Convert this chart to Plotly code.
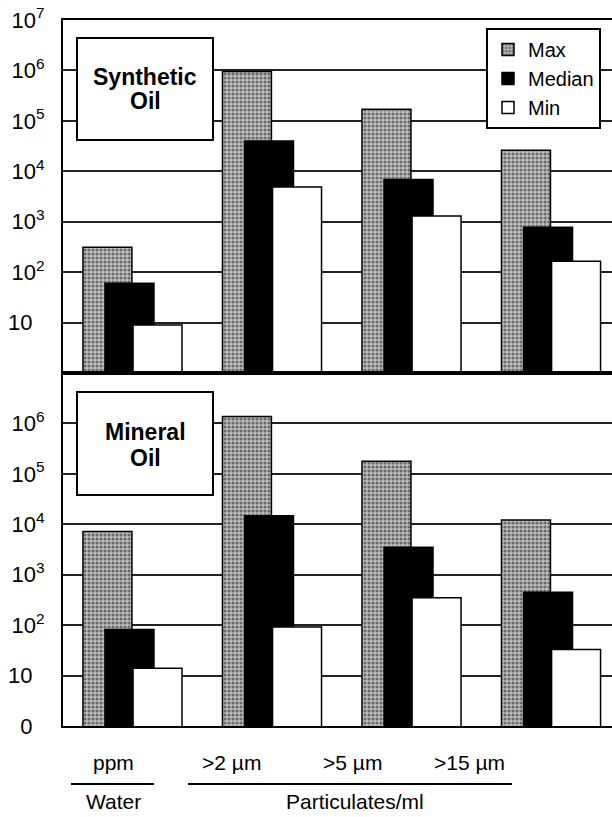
import plotly.graph_objects as go
from plotly.subplots import make_subplots

# ---- data ----
categories = ["ppm", ">2 µm", ">5 µm", ">15 µm"]
group_labels = ["Water", "Particulates/ml"]
synthetic_max = [310, 950000, 170000, 26000]
synthetic_median = [60, 40000, 6900, 780]
synthetic_min = [9, 4900, 1300, 165]
mineral_max = [7200, 1370000, 177000, 12200]
mineral_median = [82, 14800, 3500, 450]
mineral_min = [14, 92, 350, 33]
top_tickvals = [10, 1e2, 1e3, 1e4, 1e5, 1e6, 1e7]
top_ticktext = ["10\u00a0\u00a0", "10<sup>2</sup>", "10<sup>3</sup>", "10<sup>4</sup>",
                "10<sup>5</sup>", "10<sup>6</sup>", "10<sup>7</sup>"]
bot_tickvals = [1, 10, 1e2, 1e3, 1e4, 1e5, 1e6]
bot_ticktext = ["0\u00a0\u00a0", "10\u00a0\u00a0", "10<sup>2</sup>", "10<sup>3</sup>",
                "10<sup>4</sup>", "10<sup>5</sup>", "10<sup>6</sup>"]

FONT = "Liberation Sans, Arial, Helvetica, sans-serif"
W, H = 612, 817
ML, MR, MT, MB = 63, 0, 20, 91
PW, PH = W - ML - MR, H - MT - MB


def px(xp, yp):
    return (xp - ML) / PW, (H - MB - yp) / PH


xs = list(range(len(categories)))
bar_w = 0.351
offsets = {"Max": -0.355, "Median": -0.197, "Min": 0.004}

fig = make_subplots(rows=2, cols=1, shared_xaxes=True, vertical_spacing=0)

styles = {
    "Max": dict(color="#a0a0a0", line=dict(color="black", width=1.5),
                pattern=dict(shape=".", fgcolor="#1a1a1a", bgcolor="#bdbdbd",
                             size=4, solidity=0.5)),
    "Median": dict(color="black", line=dict(color="black", width=1.5)),
    "Min": dict(color="white", line=dict(color="black", width=1.5)),
}

for row, series in [(1, [("Max", synthetic_max), ("Median", synthetic_median), ("Min", synthetic_min)]),
                    (2, [("Max", mineral_max), ("Median", mineral_median), ("Min", mineral_min)])]:
    for name, vals in series:
        fig.add_trace(go.Bar(x=xs, y=vals, name=name, width=bar_w, offset=offsets[name],
                             marker=styles[name], legendgroup=name,
                             showlegend=(row == 1)), row=row, col=1)

fig.update_layout(
    width=W, height=H, margin=dict(l=ML, r=MR, t=MT, b=MB),
    barmode="overlay", plot_bgcolor="white", paper_bgcolor="white",
    font=dict(family=FONT, color="black", size=22),
    legend=dict(x=px(486, 0)[0], y=px(0, 28)[1], xanchor="left", yanchor="top",
                bordercolor="black", borderwidth=2, bgcolor="white",
                font=dict(size=20, family=FONT), traceorder="normal",
                tracegroupgap=0, itemwidth=30),
)

for r in (1, 2):
    fig.update_xaxes(range=[-0.498, 3.437], showline=True, mirror=True, linecolor="black",
                     linewidth=2, showticklabels=False, showgrid=False, zeroline=False,
                     ticks="", row=r, col=1)

fig.update_yaxes(type="log", range=[0, 7], tickvals=top_tickvals, ticktext=top_ticktext,
                 showline=True, linecolor="black", linewidth=2, showgrid=True,
                 gridcolor="#222", gridwidth=1.5, ticks="", ticklabelstandoff=12,
                 zeroline=False, tickfont=dict(size=22), row=1, col=1)
fig.update_yaxes(type="log", range=[0, 7], tickvals=bot_tickvals, ticktext=bot_ticktext,
                 showline=True, linecolor="black", linewidth=2, showgrid=True,
                 gridcolor="#222", gridwidth=1.5, ticks="", ticklabelstandoff=12,
                 zeroline=False, tickfont=dict(size=22), row=2, col=1)

# label boxes
for (x0, y0, x1, y1), lines in [((77, 38, 213, 140), [("Synthetic", 77), ("Oil", 101)]),
                                 ((77, 392, 213, 495), [("Mineral", 432), ("Oil", 458)])]:
    a0, b0 = px(x0, y0)
    a1, b1 = px(x1, y1)
    fig.add_shape(type="rect", xref="paper", yref="paper", x0=a0, x1=a1, y0=b1, y1=b0,
                  line=dict(color="black", width=2), fillcolor="white", layer="above")
    for txt, yy in lines:
        ax, ay = px((x0 + x1) / 2, yy)
        fig.add_annotation(text=f"<b>{txt}</b>", x=ax, y=ay, xref="paper", yref="paper",
                           xanchor="center", yanchor="middle",
                           showarrow=False, font=dict(size=23, family=FONT))

# category labels below
for label, cx in zip(categories, [113, 231, 352, 469]):
    ax, ay = px(cx, 762)
    fig.add_annotation(text=label, x=ax, y=ay, xref="paper", yref="paper",
                       xanchor="center", yanchor="middle",
                       showarrow=False, font=dict(size=21, family=FONT))
for label, cx in zip(group_labels, [113, 355]):
    ax, ay = px(cx, 802)
    fig.add_annotation(text=label, x=ax, y=ay, xref="paper", yref="paper",
                       xanchor="center", yanchor="middle",
                       showarrow=False, font=dict(size=21, family=FONT))
for x0, x1 in [(71, 154), (188, 512)]:
    a0, b = px(x0, 784)
    a1, _ = px(x1, 784)
    fig.add_shape(type="line", xref="paper", yref="paper", x0=a0, x1=a1, y0=b, y1=b,
                  line=dict(color="black", width=2))

fig.write_html("out.html", config={"displayModeBar": False},
               post_script="document.body.style.margin='0';document.body.style.overflow='hidden';")
